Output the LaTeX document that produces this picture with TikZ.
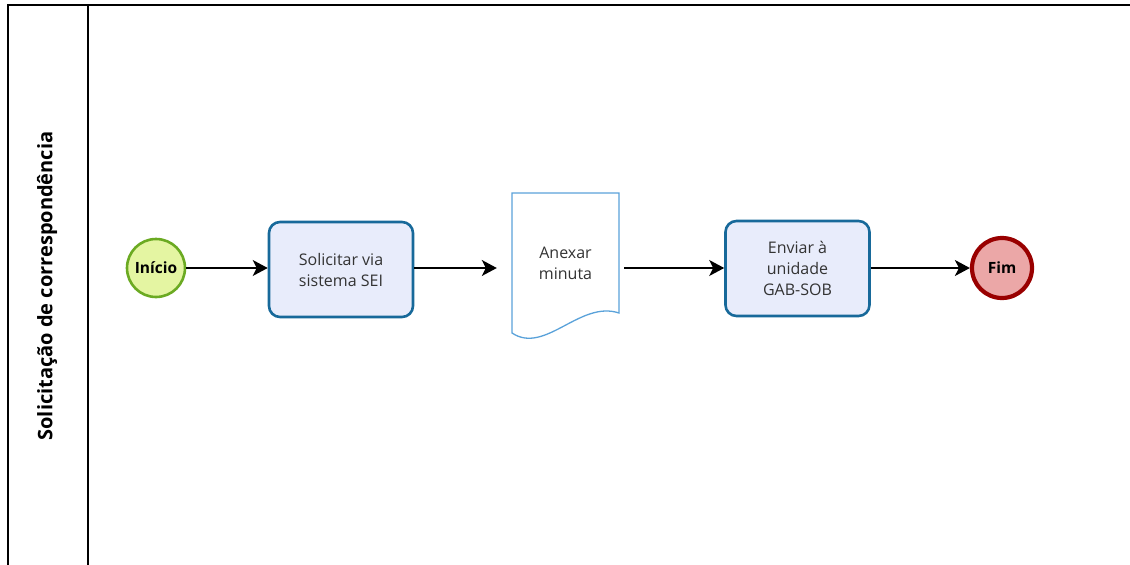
\documentclass[tikz,border=0pt]{standalone}
\usepackage{fontspec}
\setmainfont{Open Sans}
\usetikzlibrary{arrows.meta}
\definecolor{startfill}{HTML}{E4F5A2}
\definecolor{startline}{HTML}{6BAA22}
\definecolor{endfill}{HTML}{EBA7A7}
\definecolor{endline}{HTML}{990000}
\definecolor{taskfill}{HTML}{E8ECFB}
\definecolor{taskline}{HTML}{17699A}
\definecolor{docline}{HTML}{5AA2DA}
\definecolor{txt}{HTML}{333333}
\tikzset{
  x=1pt, y=-1pt,
  poolline/.style={line width=1.5pt, black},
  startev/.style={circle, draw=startline, fill=startfill, line width=2.6pt, minimum size=58pt, inner sep=0pt, font=\bfseries\fontsize{15.5}{17}\selectfont},
  endev/.style={circle, draw=endline, fill=endfill, line width=4.2pt, minimum size=60pt, inner sep=0pt, font=\bfseries\fontsize{15.5}{17}\selectfont},
  taskbox/.style={rectangle, rounded corners=11pt, draw=taskline, fill=taskfill, line width=2.6pt, minimum width=144pt, minimum height=95pt, align=center, text=txt, font=\fontsize{16}{21}\selectfont},
  docbox/.style={rectangle, minimum width=107pt, minimum height=140pt, align=center, text=txt, font=\fontsize{16}{21}\selectfont},
  flow/.style={line width=1.6pt, black, -{Stealth[length=15pt, width=16pt, inset=4pt]}},
}
\begin{document}
\begin{tikzpicture}
\useasboundingbox (0,0) rectangle (1130,565);
% pool
\draw[poolline] (8,575) -- (8,5) -- (1140,5);
\draw[poolline] (88,5) -- (88,575);
\node[rotate=90, font=\bfseries\fontsize{20}{24}\selectfont] (lane) at (47,286) {Solicitação de correspondência};
% nodes
\node[startev] (start) at (156,268) {Início};
\node[taskbox] (t1) at (341,269.5) {Solicitar via\\sistema SEI};
\node[docbox] (doc) at (565.5,263) {};
\draw[docline, line width=1.3pt, fill=white] (512,193) -- (619,193) -- (619,313) .. controls (580,300) and (545,355) .. (512,333) -- cycle;
\node[docbox] (doclabel) at (doc.center) {Anexar\\minuta};
\node[taskbox] (t2) at (797.5,268.5) {Enviar à\\unidade\\GAB-SOB};
\node[endev] (end) at (1002,268) {Fim};
% flows
\draw[flow] (start.east) -- (t1.west |- start.east);
\draw[flow, shorten >=15pt] (t1.east |- start.east) -- (doc.west |- start.east);
\draw[flow, shorten <=5pt] (doc.east |- start.east) -- (t2.west |- start.east);
\draw[flow] (t2.east |- start.east) -- (end.west);
\end{tikzpicture}
\end{document}
